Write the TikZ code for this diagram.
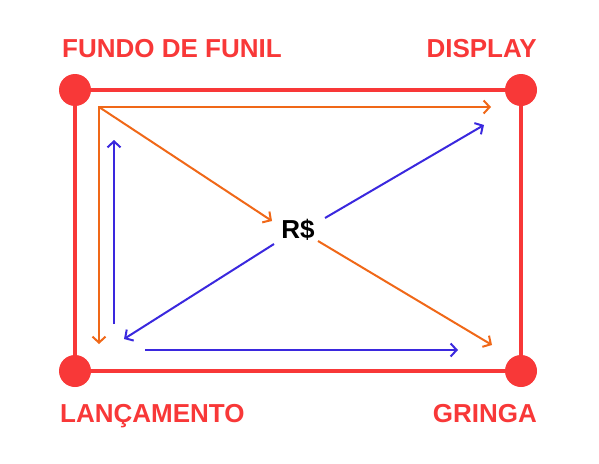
\documentclass[tikz,border=0pt]{standalone}
\usepackage{fontspec}
\setmainfont{Liberation Sans}
\usetikzlibrary{arrows.meta}
\definecolor{funilred}{RGB}{248,56,56}
\definecolor{funilorange}{RGB}{240,104,24}
\definecolor{funilblue}{RGB}{58,40,222}
\tikzset{
  corner/.style={circle,fill=funilred,minimum size=32pt,inner sep=0pt},
  cornerlabel/.style={text=funilred,font=\fontsize{26}{26}\selectfont\bfseries,inner sep=0pt},
  orangearrow/.style={draw=funilorange,line width=2pt,line join=miter},
  bluearrow/.style={draw=funilblue,line width=2pt},
}
\begin{document}
\begin{tikzpicture}[x=1pt,y=-1pt,>={Straight Barb[length=6pt,width=13pt]}]
  \useasboundingbox (0,0) rectangle (599,463);
  % the four corners
  \node[corner] (fundo) at (75,90) {};
  \node[corner] (display) at (521,90) {};
  \node[corner] (gringa) at (521,371) {};
  \node[corner] (lanc) at (75,371) {};
  \draw[funilred,line width=4pt] (fundo) -- (display) -- (gringa) -- (lanc) -- (fundo);

  \node[cornerlabel,anchor=base west] (fundolbl) at (62,57) {FUNDO DE FUNIL};
  \node[cornerlabel,anchor=base east] (displaylbl) at (537,57) {DISPLAY};
  \node[cornerlabel,anchor=base west] (lanclbl) at (60,422) {LANÇAMENTO};
  \node[cornerlabel,anchor=base east] (gringalbl) at (537,422) {GRINGA};

  \node[font=\fontsize{26}{26}\selectfont\bfseries,inner sep=0pt] (real) at (298,230) {R\$};

  % orange paths
  \coordinate (ocorner) at (99,107);
  \coordinate (otop) at (491,107);
  \coordinate (oleft) at (99,344);
  \coordinate (oin) at (272,221);
  \coordinate (oout) at (318,241);
  \coordinate (obr) at (492,345);
  \draw[orangearrow,<->] (oleft) -- (ocorner) -- (otop);
  \draw[orangearrow,->] (ocorner) -- (oin);
  \draw[orangearrow,->] (oout) -- (obr);

  % blue paths
  \coordinate (bbot) at (114,324);
  \coordinate (btop) at (114,140);
  \coordinate (bhl) at (145,350);
  \coordinate (bhr) at (458,350);
  \coordinate (bout1) at (325,218);
  \coordinate (btr) at (484,125);
  \coordinate (bout2) at (274,244);
  \coordinate (bbl) at (124,339);
  \draw[bluearrow,->] (bbot) -- (btop);
  \draw[bluearrow,->] (bhl) -- (bhr);
  \draw[bluearrow,->] (bout1) -- (btr);
  \draw[bluearrow,->] (bout2) -- (bbl);
\end{tikzpicture}
\end{document}
